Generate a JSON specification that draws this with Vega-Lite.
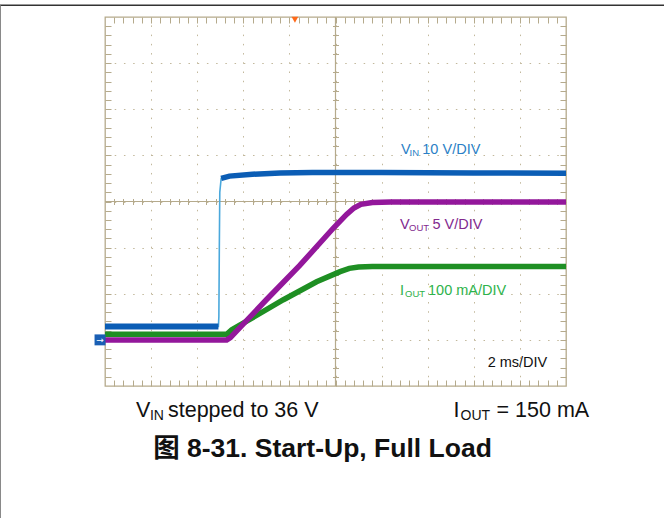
{
  "$schema": "https://vega.github.io/schema/vega-lite/v6.json",
  "width": 461,
  "height": 369,
  "autosize": {"type": "none"},
  "padding": {"left": 105, "top": 17, "right": 98, "bottom": 132},
  "background": "white",
  "config": {"view": {"stroke": "#b5aa8c", "strokeWidth": 1.3}},
  "data": {"values": [
    {"s": "VIN", "t": 0, "v": 1.29}, {"s": "VIN", "t": 2.46, "v": 1.29}, {"s": "VIN", "t": 2.47, "v": 1.5},
    {"s": "VIN", "t": 2.48, "v": 3.0}, {"s": "VIN", "t": 2.49, "v": 4.2}, {"s": "VIN", "t": 2.52, "v": 4.5},
    {"s": "VIN", "t": 2.7, "v": 4.55}, {"s": "VIN", "t": 3.2, "v": 4.59}, {"s": "VIN", "t": 3.8, "v": 4.62},
    {"s": "VIN", "t": 4.5, "v": 4.63}, {"s": "VIN", "t": 6, "v": 4.63}, {"s": "VIN", "t": 8, "v": 4.62}, {"s": "VIN", "t": 10, "v": 4.61},
    {"s": "IOUT", "t": 0, "v": 1.12}, {"s": "IOUT", "t": 2.64, "v": 1.12}, {"s": "IOUT", "t": 2.75, "v": 1.22},
    {"s": "IOUT", "t": 3.15, "v": 1.45}, {"s": "IOUT", "t": 3.87, "v": 1.87}, {"s": "IOUT", "t": 4.59, "v": 2.26},
    {"s": "IOUT", "t": 5.1, "v": 2.48}, {"s": "IOUT", "t": 5.3, "v": 2.55}, {"s": "IOUT", "t": 5.5, "v": 2.58},
    {"s": "IOUT", "t": 5.8, "v": 2.59}, {"s": "IOUT", "t": 10, "v": 2.59},
    {"s": "VOUT", "t": 0, "v": 1.0}, {"s": "VOUT", "t": 2.64, "v": 1.0}, {"s": "VOUT", "t": 2.72, "v": 1.05},
    {"s": "VOUT", "t": 3.5, "v": 1.87}, {"s": "VOUT", "t": 4.23, "v": 2.62}, {"s": "VOUT", "t": 4.95, "v": 3.42},
    {"s": "VOUT", "t": 5.24, "v": 3.72}, {"s": "VOUT", "t": 5.4, "v": 3.86}, {"s": "VOUT", "t": 5.55, "v": 3.94},
    {"s": "VOUT", "t": 5.8, "v": 3.98}, {"s": "VOUT", "t": 6.2, "v": 3.99}, {"s": "VOUT", "t": 10, "v": 3.99}
  ]},
  "resolve": {"axis": {"x": "independent", "y": "independent"}},
  "layer": [
    {
      "data": {"values": [{}]},
      "mark": {"type": "rule", "color": "#b5aa8c", "strokeWidth": 1.2},
      "encoding": {
        "x": {"datum": 5, "type": "quantitative", "scale": {"domain": [0, 10], "nice": false, "zero": false},
          "axis": {"orient": "bottom", "values": [1, 2, 3, 4, 5, 6, 7, 8, 9], "grid": true, "gridColor": "#c2b89c", "gridDash": [1.5, 7.72], "gridWidth": 1, "ticks": false, "labels": false, "domain": false, "title": null}}
      }
    },
    {
      "data": {"values": [{}]},
      "mark": {"type": "rule", "color": "#b5aa8c", "strokeWidth": 1.2},
      "encoding": {
        "y": {"datum": 4, "type": "quantitative", "scale": {"domain": [0, 8], "nice": false, "zero": false},
          "axis": {"orient": "left", "values": [1, 2, 3, 4, 5, 6, 7], "grid": true, "gridColor": "#c2b89c", "gridDash": [1.5, 7.72], "gridWidth": 1, "ticks": false, "labels": false, "domain": false, "title": null}}
      }
    },
    {
      "transform": [{"filter": "datum.s === 'VIN'"}],
      "mark": {"type": "line", "color": "#4aa8dc", "strokeWidth": 1.6},
      "encoding": {
        "x": {"field": "t", "type": "quantitative", "scale": {"domain": [0, 10], "nice": false, "zero": false}, "axis": null},
        "y": {"field": "v", "type": "quantitative", "scale": {"domain": [0, 8], "nice": false, "zero": false}, "axis": null}
      }
    },
    {
      "transform": [{"filter": "datum.s === 'VIN' && datum.t <= 2.46"}],
      "mark": {"type": "line", "color": "#0b5db5", "strokeWidth": 6},
      "encoding": {
        "x": {"field": "t", "type": "quantitative", "scale": {"domain": [0, 10], "nice": false, "zero": false}, "axis": null},
        "y": {"field": "v", "type": "quantitative", "scale": {"domain": [0, 8], "nice": false, "zero": false}, "axis": null}
      }
    },
    {
      "transform": [{"filter": "datum.s === 'VIN' && datum.t >= 2.52"}],
      "mark": {"type": "line", "color": "#0b5db5", "strokeWidth": 5.5},
      "encoding": {
        "x": {"field": "t", "type": "quantitative", "scale": {"domain": [0, 10], "nice": false, "zero": false},
          "axis": {"orient": "bottom", "values": [0.2,0.4,0.6,0.8,1.2,1.4,1.6,1.8,2.2,2.4,2.6,2.8,3.2,3.4,3.6,3.8,4.2,4.4,4.6,4.8,5.2,5.4,5.6,5.8,6.2,6.4,6.6,6.8,7.2,7.4,7.6,7.8,8.2,8.4,8.6,8.8,9.2,9.4,9.6,9.8,1,2,3,4,5,6,7,8,9], "tickSize": -6, "tickColor": "#b5aa8c", "tickWidth": 1, "labels": false, "domain": false, "grid": false, "title": null}},
        "y": {"field": "v", "type": "quantitative", "scale": {"domain": [0, 8], "nice": false, "zero": false},
          "axis": {"orient": "left", "values": [0.2,0.4,0.6,0.8,1.2,1.4,1.6,1.8,2.2,2.4,2.6,2.8,3.2,3.4,3.6,3.8,4.2,4.4,4.6,4.8,5.2,5.4,5.6,5.8,6.2,6.4,6.6,6.8,7.2,7.4,7.6,7.8,1,2,3,4,5,6,7], "tickSize": -6, "tickColor": "#b5aa8c", "tickWidth": 1, "labels": false, "domain": false, "grid": false, "title": null}}
      }
    },
    {
      "transform": [{"filter": "datum.s === 'IOUT'"}],
      "mark": {"type": "line", "color": "#1e8f23", "strokeWidth": 5.5},
      "encoding": {
        "x": {"field": "t", "type": "quantitative", "scale": {"domain": [0, 10], "nice": false, "zero": false},
          "axis": {"orient": "top", "values": [0.2,0.4,0.6,0.8,1.2,1.4,1.6,1.8,2.2,2.4,2.6,2.8,3.2,3.4,3.6,3.8,4.2,4.4,4.6,4.8,5.2,5.4,5.6,5.8,6.2,6.4,6.6,6.8,7.2,7.4,7.6,7.8,8.2,8.4,8.6,8.8,9.2,9.4,9.6,9.8,1,2,3,4,5,6,7,8,9], "tickSize": -6, "tickColor": "#b5aa8c", "tickWidth": 1, "labels": false, "domain": false, "grid": false, "title": null}},
        "y": {"field": "v", "type": "quantitative", "scale": {"domain": [0, 8], "nice": false, "zero": false},
          "axis": {"orient": "right", "values": [0.2,0.4,0.6,0.8,1.2,1.4,1.6,1.8,2.2,2.4,2.6,2.8,3.2,3.4,3.6,3.8,4.2,4.4,4.6,4.8,5.2,5.4,5.6,5.8,6.2,6.4,6.6,6.8,7.2,7.4,7.6,7.8,1,2,3,4,5,6,7], "tickSize": -6, "tickColor": "#b5aa8c", "tickWidth": 1, "labels": false, "domain": false, "grid": false, "title": null}}
      }
    },
    {
      "transform": [{"filter": "datum.s === 'VOUT'"}],
      "mark": {"type": "line", "color": "#93179b", "strokeWidth": 5.5},
      "encoding": {
        "x": {"field": "t", "type": "quantitative", "scale": {"domain": [0, 10], "nice": false, "zero": false},
          "axis": {"orient": "bottom", "offset": -181.5, "values": [0.2,0.4,0.6,0.8,1.2,1.4,1.6,1.8,2.2,2.4,2.6,2.8,3.2,3.4,3.6,3.8,4.2,4.4,4.6,4.8,5.2,5.4,5.6,5.8,6.2,6.4,6.6,6.8,7.2,7.4,7.6,7.8,8.2,8.4,8.6,8.8,9.2,9.4,9.6,9.8], "tickSize": -6, "tickColor": "#b5aa8c", "tickWidth": 1, "labels": false, "domain": false, "grid": false, "title": null}},
        "y": {"field": "v", "type": "quantitative", "scale": {"domain": [0, 8], "nice": false, "zero": false},
          "axis": {"orient": "left", "offset": -227.5, "values": [0.2,0.4,0.6,0.8,1.2,1.4,1.6,1.8,2.2,2.4,2.6,2.8,3.2,3.4,3.6,3.8,4.2,4.4,4.6,4.8,5.2,5.4,5.6,5.8,6.2,6.4,6.6,6.8,7.2,7.4,7.6,7.8], "tickSize": -6, "tickColor": "#b5aa8c", "tickWidth": 1, "labels": false, "domain": false, "grid": false, "title": null}}
      }
    },
    {
      "data": {"values": [{}]},
      "mark": {"type": "point", "shape": "square", "filled": true, "size": 120, "color": "#1a5fb4", "opacity": 1},
      "encoding": {
        "x": {"datum": -0.108, "type": "quantitative", "scale": {"domain": [0, 10], "nice": false, "zero": false}, "axis": null},
        "y": {"datum": 1.0, "type": "quantitative", "scale": {"domain": [0, 8], "nice": false, "zero": false}, "axis": null}
      }
    },
    {
      "data": {"values": [{}]},
      "mark": {"type": "text", "text": "→", "fontSize": 9, "color": "white", "font": "DejaVu Sans", "align": "center", "baseline": "middle"},
      "encoding": {
        "x": {"datum": -0.108, "type": "quantitative", "scale": {"domain": [0, 10], "nice": false, "zero": false}, "axis": null},
        "y": {"datum": 1.0, "type": "quantitative", "scale": {"domain": [0, 8], "nice": false, "zero": false}, "axis": null}
      }
    },
    {
      "data": {"values": [{}]},
      "mark": {"type": "point", "shape": "triangle-down", "filled": true, "size": 45, "color": "#ff6a1a", "opacity": 1},
      "encoding": {
        "x": {"datum": 4.12, "type": "quantitative", "scale": {"domain": [0, 10], "nice": false, "zero": false}, "axis": null},
        "y": {"datum": 7.94, "type": "quantitative", "scale": {"domain": [0, 8], "nice": false, "zero": false}, "axis": null}
      }
    },
    {
      "data": {"values": [{}]},
      "mark": {"type": "rule", "color": "#333333", "strokeWidth": 1.5},
      "encoding": {
        "x": {"datum": -2.3, "type": "quantitative", "scale": {"domain": [0, 10], "nice": false, "zero": false}, "axis": null},
        "x2": {"datum": 12.2},
        "y": {"datum": 8.254, "type": "quantitative", "scale": {"domain": [0, 8], "nice": false, "zero": false}, "axis": null}
      }
    },
    {
      "data": {"values": [{}]},
      "mark": {"type": "rule", "color": "#888888", "strokeWidth": 1},
      "encoding": {
        "x": {"datum": -2.267, "type": "quantitative", "scale": {"domain": [0, 10], "nice": false, "zero": false}, "axis": null},
        "y": {"datum": 8.254, "type": "quantitative", "scale": {"domain": [0, 8], "nice": false, "zero": false}, "axis": null},
        "y2": {"datum": -2.9}
      }
    },
    {"data": {"values": [{}]}, "mark": {"type": "text", "text": "V", "align": "left", "baseline": "alphabetic", "fontSize": 14.5, "font": "Liberation Sans", "color": "#2b7fc6"},
      "encoding": {"x": {"datum": 6.421, "type": "quantitative", "scale": {"domain": [0, 10], "nice": false, "zero": false}, "axis": null}, "y": {"datum": 5.033, "type": "quantitative", "scale": {"domain": [0, 8], "nice": false, "zero": false}, "axis": null}}},
    {"data": {"values": [{}]}, "mark": {"type": "text", "text": "IN", "align": "left", "baseline": "alphabetic", "fontSize": 9.5, "font": "Liberation Sans", "color": "#2b7fc6", "dx": 8.5, "dy": 2},
      "encoding": {"x": {"datum": 6.421, "type": "quantitative", "scale": {"domain": [0, 10], "nice": false, "zero": false}, "axis": null}, "y": {"datum": 5.033, "type": "quantitative", "scale": {"domain": [0, 8], "nice": false, "zero": false}, "axis": null}}},
    {"data": {"values": [{}]}, "mark": {"type": "text", "text": "10 V/DIV", "align": "left", "baseline": "alphabetic", "fontSize": 14.5, "font": "Liberation Sans", "color": "#2b7fc6", "dx": 21.3},
      "encoding": {"x": {"datum": 6.421, "type": "quantitative", "scale": {"domain": [0, 10], "nice": false, "zero": false}, "axis": null}, "y": {"datum": 5.033, "type": "quantitative", "scale": {"domain": [0, 8], "nice": false, "zero": false}, "axis": null}}},
    {"data": {"values": [{}]}, "mark": {"type": "text", "text": "V", "align": "left", "baseline": "alphabetic", "fontSize": 14.5, "font": "Liberation Sans", "color": "#82298e"},
      "encoding": {"x": {"datum": 6.399, "type": "quantitative", "scale": {"domain": [0, 10], "nice": false, "zero": false}, "axis": null}, "y": {"datum": 3.399, "type": "quantitative", "scale": {"domain": [0, 8], "nice": false, "zero": false}, "axis": null}}},
    {"data": {"values": [{}]}, "mark": {"type": "text", "text": "OUT", "align": "left", "baseline": "alphabetic", "fontSize": 9.5, "font": "Liberation Sans", "color": "#82298e", "dx": 9, "dy": 2},
      "encoding": {"x": {"datum": 6.399, "type": "quantitative", "scale": {"domain": [0, 10], "nice": false, "zero": false}, "axis": null}, "y": {"datum": 3.399, "type": "quantitative", "scale": {"domain": [0, 8], "nice": false, "zero": false}, "axis": null}}},
    {"data": {"values": [{}]}, "mark": {"type": "text", "text": "5 V/DIV", "align": "left", "baseline": "alphabetic", "fontSize": 14.5, "font": "Liberation Sans", "color": "#82298e", "dx": 32.5},
      "encoding": {"x": {"datum": 6.399, "type": "quantitative", "scale": {"domain": [0, 10], "nice": false, "zero": false}, "axis": null}, "y": {"datum": 3.399, "type": "quantitative", "scale": {"domain": [0, 8], "nice": false, "zero": false}, "axis": null}}},
    {"data": {"values": [{}]}, "mark": {"type": "text", "text": "I", "align": "left", "baseline": "alphabetic", "fontSize": 14.5, "font": "Liberation Sans", "color": "#2eb34b"},
      "encoding": {"x": {"datum": 6.40, "type": "quantitative", "scale": {"domain": [0, 10], "nice": false, "zero": false}, "axis": null}, "y": {"datum": 1.974, "type": "quantitative", "scale": {"domain": [0, 8], "nice": false, "zero": false}, "axis": null}}},
    {"data": {"values": [{}]}, "mark": {"type": "text", "text": "OUT", "align": "left", "baseline": "alphabetic", "fontSize": 9.5, "font": "Liberation Sans", "color": "#2eb34b", "dx": 5, "dy": 2},
      "encoding": {"x": {"datum": 6.40, "type": "quantitative", "scale": {"domain": [0, 10], "nice": false, "zero": false}, "axis": null}, "y": {"datum": 1.974, "type": "quantitative", "scale": {"domain": [0, 8], "nice": false, "zero": false}, "axis": null}}},
    {"data": {"values": [{}]}, "mark": {"type": "text", "text": "100 mA/DIV", "align": "left", "baseline": "alphabetic", "fontSize": 14.5, "font": "Liberation Sans", "color": "#2eb34b", "dx": 28},
      "encoding": {"x": {"datum": 6.40, "type": "quantitative", "scale": {"domain": [0, 10], "nice": false, "zero": false}, "axis": null}, "y": {"datum": 1.974, "type": "quantitative", "scale": {"domain": [0, 8], "nice": false, "zero": false}, "axis": null}}},
    {"data": {"values": [{}]}, "mark": {"type": "text", "text": "2 ms/DIV", "align": "left", "baseline": "alphabetic", "fontSize": 14.5, "font": "Liberation Sans", "color": "#111111"},
      "encoding": {"x": {"datum": 8.30, "type": "quantitative", "scale": {"domain": [0, 10], "nice": false, "zero": false}, "axis": null}, "y": {"datum": 0.419, "type": "quantitative", "scale": {"domain": [0, 8], "nice": false, "zero": false}, "axis": null}}},
    {"data": {"values": [{}]}, "mark": {"type": "text", "text": "V", "align": "left", "baseline": "alphabetic", "fontSize": 21.5, "font": "Liberation Sans", "color": "#111111"},
      "encoding": {"x": {"datum": 0.672, "type": "quantitative", "scale": {"domain": [0, 10], "nice": false, "zero": false}, "axis": null}, "y": {"datum": -0.666, "type": "quantitative", "scale": {"domain": [0, 8], "nice": false, "zero": false}, "axis": null}}},
    {"data": {"values": [{}]}, "mark": {"type": "text", "text": "IN", "align": "left", "baseline": "alphabetic", "fontSize": 14, "font": "Liberation Sans", "color": "#111111", "dx": 14, "dy": 3},
      "encoding": {"x": {"datum": 0.672, "type": "quantitative", "scale": {"domain": [0, 10], "nice": false, "zero": false}, "axis": null}, "y": {"datum": -0.666, "type": "quantitative", "scale": {"domain": [0, 8], "nice": false, "zero": false}, "axis": null}}},
    {"data": {"values": [{}]}, "mark": {"type": "text", "text": "stepped to 36 V", "align": "left", "baseline": "alphabetic", "fontSize": 21.5, "font": "Liberation Sans", "color": "#111111", "dx": 32},
      "encoding": {"x": {"datum": 0.672, "type": "quantitative", "scale": {"domain": [0, 10], "nice": false, "zero": false}, "axis": null}, "y": {"datum": -0.666, "type": "quantitative", "scale": {"domain": [0, 8], "nice": false, "zero": false}, "axis": null}}},
    {"data": {"values": [{}]}, "mark": {"type": "text", "text": "I", "align": "left", "baseline": "alphabetic", "fontSize": 21.5, "font": "Liberation Sans", "color": "#111111"},
      "encoding": {"x": {"datum": 7.56, "type": "quantitative", "scale": {"domain": [0, 10], "nice": false, "zero": false}, "axis": null}, "y": {"datum": -0.666, "type": "quantitative", "scale": {"domain": [0, 8], "nice": false, "zero": false}, "axis": null}}},
    {"data": {"values": [{}]}, "mark": {"type": "text", "text": "OUT", "align": "left", "baseline": "alphabetic", "fontSize": 14, "font": "Liberation Sans", "color": "#111111", "dx": 7, "dy": 3},
      "encoding": {"x": {"datum": 7.56, "type": "quantitative", "scale": {"domain": [0, 10], "nice": false, "zero": false}, "axis": null}, "y": {"datum": -0.666, "type": "quantitative", "scale": {"domain": [0, 8], "nice": false, "zero": false}, "axis": null}}},
    {"data": {"values": [{}]}, "mark": {"type": "text", "text": "= 150 mA", "align": "left", "baseline": "alphabetic", "fontSize": 21.5, "font": "Liberation Sans", "color": "#111111", "dx": 43},
      "encoding": {"x": {"datum": 7.56, "type": "quantitative", "scale": {"domain": [0, 10], "nice": false, "zero": false}, "axis": null}, "y": {"datum": -0.666, "type": "quantitative", "scale": {"domain": [0, 8], "nice": false, "zero": false}, "axis": null}}},
    {"data": {"values": [{}]}, "mark": {"type": "text", "text": "图 8-31. Start-Up, Full Load", "align": "center", "baseline": "alphabetic", "fontSize": 26.5, "fontWeight": "bold", "font": "Liberation Sans, Noto Sans CJK SC", "color": "#111111"},
      "encoding": {"x": {"datum": 4.718, "type": "quantitative", "scale": {"domain": [0, 10], "nice": false, "zero": false}, "axis": null}, "y": {"datum": -1.54, "type": "quantitative", "scale": {"domain": [0, 8], "nice": false, "zero": false}, "axis": null}}}
  ]
}
